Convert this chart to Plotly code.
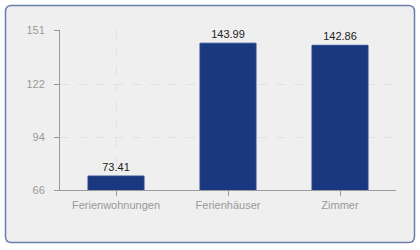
import plotly.graph_objects as go

categories = ["Ferienwohnungen", "Ferienhäuser", "Zimmer"]
values = [73.41, 143.99, 142.86]
value_labels = ["73.41", "143.99", "142.86"]
y_ticks = [66, 94, 122, 151]

fig = go.Figure()
fig.add_trace(go.Bar(
    x=categories, y=values, base=0,
    width=0.5,
    marker=dict(color="#19387f", line=dict(color="#2a4a90", width=1)),
    text=value_labels, textposition="outside",
    textfont=dict(family="Liberation Sans", size=11, color="#222222"),
    cliponaxis=False,
))

# plot area: x 60..396, y 30..190 in pixels
W, H = 336.0, 160.0
def px(x):
    return (x - 60) / W
def py(y):
    return (190 - y) / H
L, R, T, B = 5.5, 414.5, 5.5, 242.5
rx, ry = 6 / W, 6 / H
path = (
    f"M {px(L)+rx},{py(T)} L {px(R)-rx},{py(T)} Q {px(R)},{py(T)} {px(R)},{py(T)-ry} "
    f"L {px(R)},{py(B)+ry} Q {px(R)},{py(B)} {px(R)-rx},{py(B)} "
    f"L {px(L)+rx},{py(B)} Q {px(L)},{py(B)} {px(L)},{py(B)+ry} "
    f"L {px(L)},{py(T)-ry} Q {px(L)},{py(T)} {px(L)+rx},{py(T)} Z"
)
fig.add_shape(type="path", xref="paper", yref="paper", path=path,
              fillcolor="#efefef", line=dict(color="#6a7eae", width=1.5), layer="below")

fig.update_layout(
    width=420, height=250,
    margin=dict(l=60, r=24, t=30, b=60),
    paper_bgcolor="white",
    plot_bgcolor="#f9f9f9",
    showlegend=False,
    font=dict(family="Liberation Sans", size=11, color="#999999"),
    xaxis=dict(
        showline=True, linecolor="#999999", linewidth=1,
        ticks="outside", ticklen=5, tickcolor="#999999",
        showgrid=True, gridcolor="#e2e2e2", griddash="dash", gridwidth=1,
        tickfont=dict(size=11, color="#999999"),
    ),
    yaxis=dict(
        range=[66, 151], tickvals=y_ticks, ticktext=[str(v) for v in y_ticks],
        showline=True, linecolor="#999999", linewidth=1,
        ticks="outside", ticklen=5, tickcolor="#999999",
        showgrid=True, gridcolor="#e2e2e2", griddash="dash", gridwidth=1,
        zeroline=False,
        tickfont=dict(size=11, color="#999999"),
        ticklabelstandoff=7,
    ),
)

fig.write_html("out.html")
